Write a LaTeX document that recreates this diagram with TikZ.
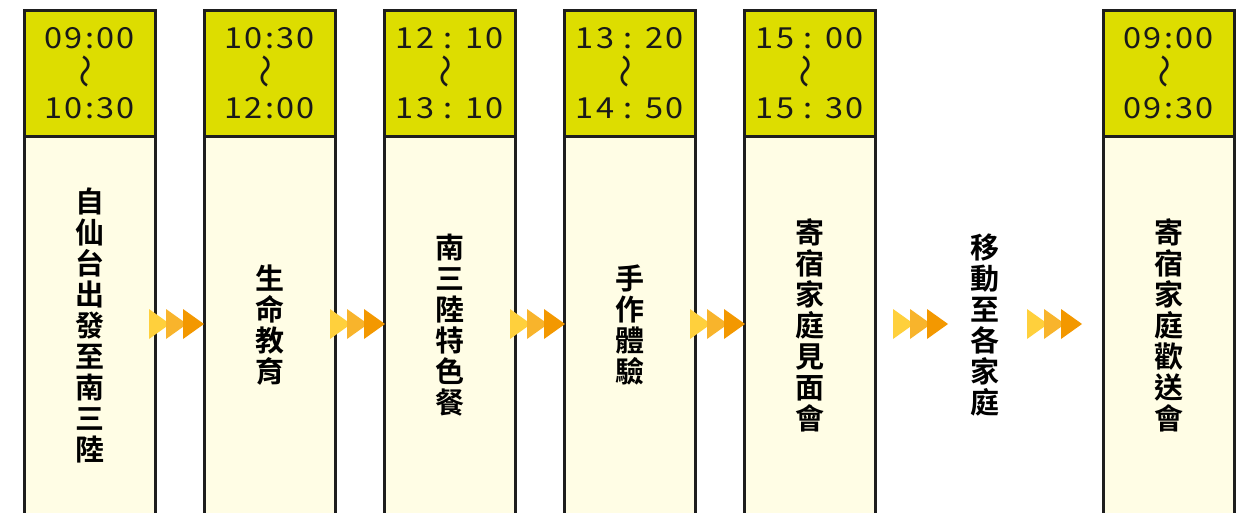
\documentclass[tikz,border=0pt]{standalone}
\usepackage{fontspec}
\newfontfamily\cjk{Noto Sans CJK TC}[BoldFont={Noto Sans CJK TC Bold}]
\newfontfamily\timefont{Noto Sans CJK JP}[LetterSpace=8,FakeStretch=1.12]
\newfontfamily\wavefont{Noto Sans CJK JP}
\usetikzlibrary{calc}
\definecolor{hdr}{RGB}{221,221,0}
\definecolor{bdy}{RGB}{255,253,229}
\definecolor{ar1}{RGB}{255,208,60}
\definecolor{ar2}{RGB}{248,180,44}
\definecolor{ar3}{RGB}{243,152,0}
\definecolor{edge}{RGB}{30,30,30}
\tikzset{
  hdrbox/.style={draw=edge,line width=2.5pt,fill=hdr,minimum width=131pt,minimum height=126pt,anchor=north west,inner sep=0pt},
  bdybox/.style={draw=edge,line width=2.5pt,fill=bdy,minimum width=131pt,minimum height=400pt,anchor=north west,inner sep=0pt},
  timetxt/.style={font=\timefont\fontsize{29}{35}\selectfont,text=black!90},
  vtxt/.style={font=\cjk\bfseries\fontsize{29}{31}\selectfont,align=center,inner sep=0pt},
}
\newcommand{\wave}{\rotatebox{90}{\wavefont\fontsize{34}{34}\selectfont 〜}}
\newcommand{\tribar}[1]{%
  \foreach \dx/\cc in {0/ar1,17/ar2,34/ar3}{
    \fill[\cc] ($(#1)+(\dx,-15)$) -- ($(#1)+(\dx+21,0)$) -- ($(#1)+(\dx,15)$) -- cycle;}
}
\begin{document}
\begin{tikzpicture}[x=1pt,y=-1pt]
\useasboundingbox (0,0) rectangle (1247,512);
\clip (0,0) rectangle (1247,512);
\fill[white] (0,0) rectangle (1247,512);
% boxes
\foreach \i/\xx in {1/23,2/203,3/383,4/563,5/743,7/1102}{
  \node[bdybox] (b\i) at (\xx,135) {};
  \node[hdrbox] (h\i) at (\xx,9) {};
}
% times
\foreach \i/\ta/\tb in {1/09:00/10:30,2/10:30/12:00,3/12 : 10/13 : 10,4/13 : 20/14 : 50,5/15 : 00/15 : 30,7/09:00/09:30}{
  \node[timetxt,anchor=base] (ta\i) at ($(h\i.north)+(0,39)$) {\ta};
  \node[timetxt,anchor=base] (tb\i) at ($(h\i.north)+(0,109)$) {\tb};
  \node[inner sep=0pt,text=black!90] (w\i) at ($(h\i.north)+(0,62)$) {\wave};
}
% vertical texts
\node[vtxt] (t1) at ($(b1.north)+(0,190)$) {自\\仙\\台\\出\\發\\至\\南\\三\\陸};
\node[vtxt] (t2) at ($(b2.north)+(0,190)$) {生\\命\\教\\育};
\node[vtxt] (t3) at ($(b3.north)+(0,190)$) {南\\三\\陸\\特\\色\\餐};
\node[vtxt] (t4) at ($(b4.north)+(0,190)$) {手\\作\\體\\驗};
\node[vtxt] (t5) at ($(b5.north)+(0,190)$) {寄\\宿\\家\\庭\\見\\面\\會};
\node[vtxt] (t6) at (985,325) {移\\動\\至\\各\\家\\庭};
\node[vtxt] (t7) at ($(b7.north)+(0,190)$) {寄\\宿\\家\\庭\\歡\\送\\會};
% arrows
\coordinate (a1) at (149,324);
\coordinate (a2) at (330,324);
\coordinate (a3) at (510,324);
\coordinate (a4) at (690,324);
\coordinate (a5) at (893,324);
\coordinate (a6) at (1027,324);
\tribar{a1}\tribar{a2}\tribar{a3}\tribar{a4}\tribar{a5}\tribar{a6}
\end{tikzpicture}
\end{document}
